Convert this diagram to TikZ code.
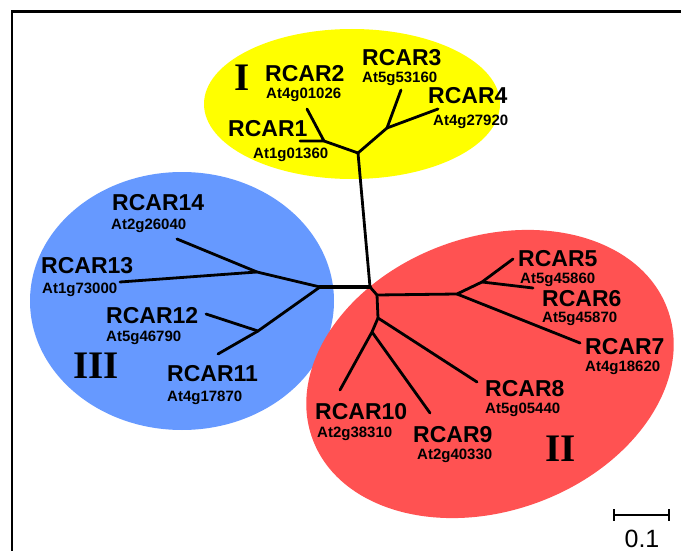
\documentclass[tikz,border=0pt]{standalone}
\usepackage{fontspec}
\setmainfont{Liberation Sans}
\newfontfamily\romanf{Liberation Serif}
\definecolor{yel}{RGB}{255,255,0}
\definecolor{blu}{RGB}{102,153,255}
\definecolor{rd}{RGB}{255,82,82}
\tikzset{
  rc/.style={inner sep=0pt, anchor=base west, font=\fontsize{23}{23}\selectfont\bfseries},
  gene/.style={inner sep=0pt, anchor=base west, font=\fontsize{15}{15}\selectfont\bfseries},
  roman/.style={inner sep=0pt, anchor=base west, font=\fontsize{39}{39}\selectfont\romanf\bfseries},
  br/.style={line width=2.8pt, line cap=round, line join=round},
}
\begin{document}
\begin{tikzpicture}[x=1pt, y=-1pt]
\useasboundingbox (0,0) rectangle (681,551);
\fill[white] (0,0) rectangle (681,551);
% frame
\draw[line width=2.5pt] (12,551) -- (12,11.5) -- (681,11.5);
% clade ellipses
\fill[yel] (352,104) ellipse [x radius=148, y radius=75];
\fill[blu] (182,301) ellipse [x radius=152, y radius=129];
\fill[rd, rotate around={20:(490,374)}] (490,374) ellipse [x radius=189, y radius=137];
% tree coordinates
\coordinate (C) at (370,287);
\coordinate (t1) at (300,141);
\coordinate (n12) at (324,141);
\coordinate (t2) at (307,109);
\coordinate (nA) at (358,153);
\coordinate (nB) at (387,128);
\coordinate (t3) at (401,90);
\coordinate (t4) at (438,109);
\coordinate (D) at (320,287);
\coordinate (E) at (257,272);
\coordinate (t14) at (177,239);
\coordinate (t13) at (120,282);
\coordinate (F) at (258,331);
\coordinate (t12) at (206,314);
\coordinate (t11) at (218,354);
\coordinate (R0) at (377,295);
\coordinate (H) at (457,294);
\coordinate (I) at (482,282);
\coordinate (t5) at (513,259);
\coordinate (t6) at (533,288);
\coordinate (t7) at (580,343);
\coordinate (J) at (378,318);
\coordinate (t8) at (477,382);
\coordinate (K) at (372,332);
\coordinate (t10) at (340,390);
\coordinate (t9) at (430,413);
% clade I
\draw[br] (t1) -- (n12) -- (t2);
\draw[br] (n12) -- (nA) -- (nB) -- (t3);
\draw[br] (nB) -- (t4);
\draw[br] (nA) -- (C);
% clade III
\draw[line width=3.6pt, line cap=round] (C) -- (D);
\draw[br] (D) -- (E) -- (t14);
\draw[br] (E) -- (t13);
\draw[br] (D) -- (F) -- (t12);
\draw[br] (F) -- (t11);
% clade II
\draw[br] (C) -- (R0) -- (H) -- (I) -- (t5);
\draw[br] (I) -- (t6);
\draw[br] (H) -- (t7);
\draw[br] (R0) -- (J) -- (t8);
\draw[br] (J) -- (K) -- (t10);
\draw[br] (K) -- (t9);
% labels clade I
\node[roman] (cI) at (234,91) {I};
\node[rc] (r2) at (265,82) {RCAR2};
\node[gene] (g2) at (266,99) {At4g01026};
\node[rc] (r3) at (362,66) {RCAR3};
\node[gene] (g3) at (362,83) {At5g53160};
\node[rc] (r4) at (428,103) {RCAR4};
\node[gene] (g4) at (433,126) {At4g27920};
\node[rc] (r1) at (228,136) {RCAR1};
\node[gene] (g1) at (253,158) {At1g01360};
% labels clade III
\node[rc] (r14) at (112,210) {RCAR14};
\node[gene] (g14) at (111,229) {At2g26040};
\node[rc] (r13) at (41,273) {RCAR13};
\node[gene] (g13) at (42,293) {At1g73000};
\node[rc] (r12) at (106,323) {RCAR12};
\node[gene] (g12) at (106,341) {At5g46790};
\node[roman] (cIII) at (73,378) {III};
\node[rc] (r11) at (167,381) {RCAR11};
\node[gene] (g11) at (167,401) {At4g17870};
% labels clade II
\node[rc] (r5) at (518,266) {RCAR5};
\node[gene] (g5) at (520,283) {At5g45860};
\node[rc] (r6) at (542,306) {RCAR6};
\node[gene] (g6) at (542,322) {At5g45870};
\node[rc] (r7) at (585,354) {RCAR7};
\node[gene] (g7) at (585,371) {At4g18620};
\node[rc] (r8) at (485,396) {RCAR8};
\node[gene] (g8) at (485,413) {At5g05440};
\node[rc] (r10) at (315,419) {RCAR10};
\node[gene] (g10) at (317,437) {At2g38310};
\node[rc] (r9) at (413,442) {RCAR9};
\node[gene] (g9) at (417,459) {At2g40330};
\node[roman] (cII) at (545,461) {II};
% scale bar
\coordinate (sbL) at (614,515);
\coordinate (sbR) at (669,515);
\draw[line width=2pt] (sbL) -- (sbR);
\draw[line width=2.5pt] ([yshift=6pt]sbL) -- ([yshift=-6pt]sbL);
\draw[line width=2.5pt] ([yshift=6pt]sbR) -- ([yshift=-6pt]sbR);
\node[inner sep=0pt, anchor=base, font=\fontsize{25}{25}\selectfont] (sbt) at (642,547) {0.1};
\end{tikzpicture}
\end{document}
